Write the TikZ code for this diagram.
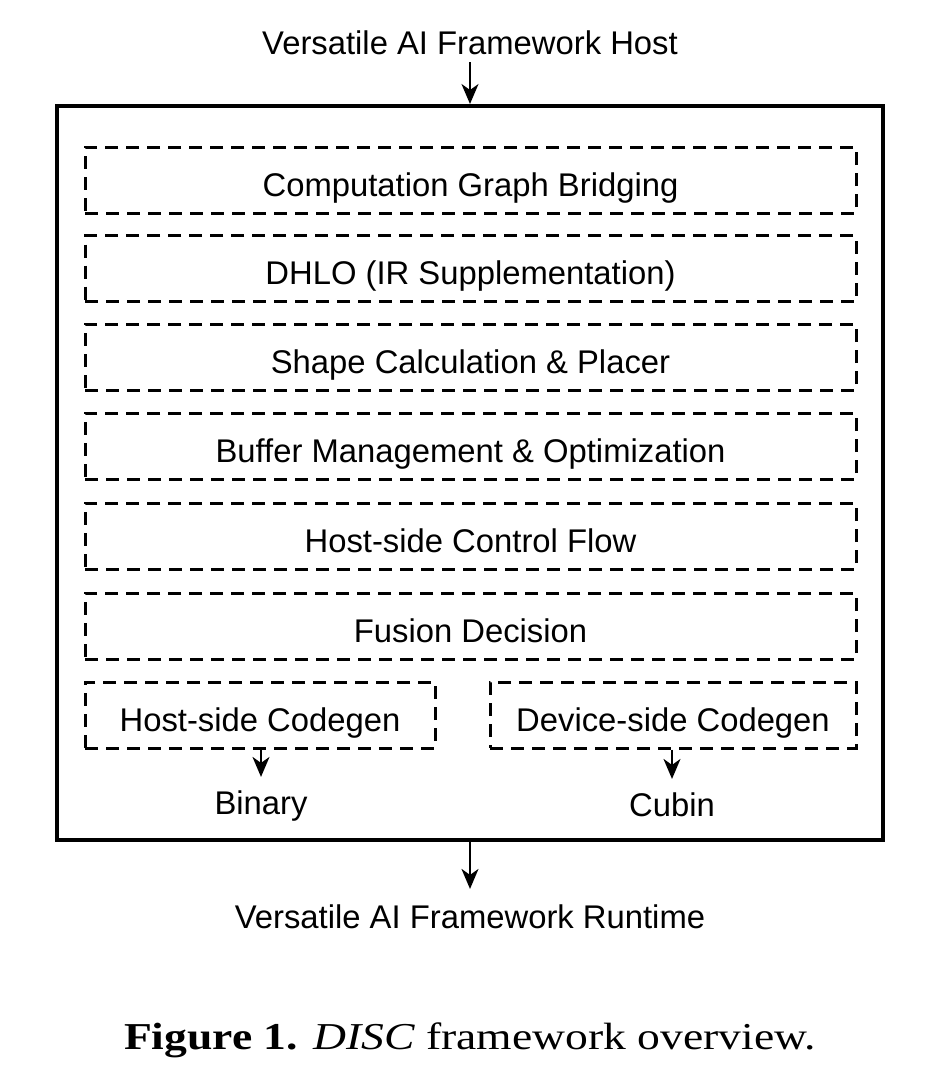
\documentclass[tikz,border=0pt]{standalone}
\usepackage{fontspec}
\setmainfont{Liberation Sans}
\newfontfamily\capfont{Liberation Serif}
\usetikzlibrary{arrows.meta}
\begin{document}
\begin{tikzpicture}[x=1pt,y=-1pt,
  txt/.style={font=\fontsize{32.8}{38}\selectfont, inner sep=0pt, text depth=0pt},
  dbox/.style={draw, line width=3pt, dash pattern=on 13pt off 8pt, txt, text height=32pt, minimum height=66pt},
  wide/.style={dbox, minimum width=771pt},
  arr/.style={line width=2pt, -{Stealth[length=20pt,width=17pt,inset=6pt]}}
]
\useasboundingbox (0,0) rectangle (946,1081);
\node[txt] (host) at (470,43) {Versatile AI Framework Host};
\node[draw, line width=4pt, minimum width=826pt, minimum height=734pt, inner sep=0pt] (outer) at (470,473) {};
\node[wide] (b1) at (470.5,180) {Computation Graph Bridging};
\node[wide] (b2) at (470.5,268.5) {DHLO (IR Supplementation)};
\node[wide] (b3) at (470.5,357) {Shape Calculation \& Placer};
\node[wide] (b4) at (470.5,446) {Buffer Management \& Optimization};
\node[wide] (b5) at (470.5,536) {Host-side Control Flow};
\node[wide] (b6) at (470.5,626) {Fusion Decision};
\node[dbox, minimum width=350pt] (hc) at (260,715) {Host-side Codegen};
\node[dbox, minimum width=366pt] (dc) at (673,715) {Device-side Codegen};
\node[txt] (bin) at (261,803) {Binary};
\node[txt] (cub) at (672,805) {Cubin};
\node[txt] (rt) at (470,917) {Versatile AI Framework Runtime};
\node[inner sep=0pt, font=\capfont\fontsize{38}{44}\selectfont] (cap) at (470,1040) {\scalebox{1.2}[1]{\textbf{Figure 1.} \textit{DISC} framework overview.}};
\draw[arr] ([yshift=-7pt]host.south) -- (host.south |- outer.north);
\draw[arr] (bin.north |- hc.south) -- ([yshift=14pt]bin.north);
\draw[arr] (cub.north |- dc.south) -- ([yshift=14pt]cub.north);
\draw[arr] (outer.south) -- ([yshift=16pt]rt.north);
\end{tikzpicture}
\end{document}
